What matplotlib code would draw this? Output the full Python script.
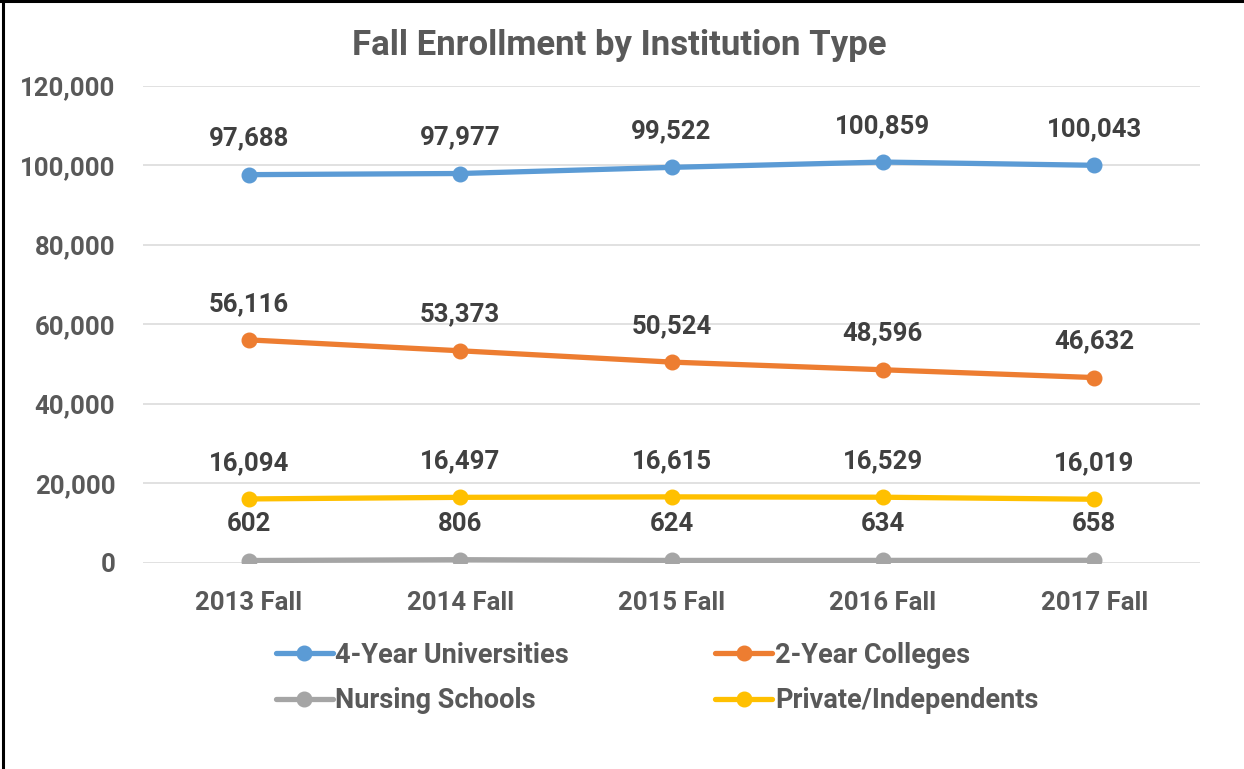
import matplotlib
matplotlib.use("Agg")
import matplotlib.pyplot as plt
from matplotlib.lines import Line2D
from matplotlib.ticker import FuncFormatter

plt.rcParams["font.family"] = ["Roboto", "DejaVu Sans"]

terms = ["2013 Fall", "2014 Fall", "2015 Fall", "2016 Fall", "2017 Fall"]
four_year = [97688, 97977, 99522, 100859, 100043]
two_year = [56116, 53373, 50524, 48596, 46632]
nursing = [602, 806, 624, 634, 658]
private = [16094, 16497, 16615, 16529, 16019]

SERIES = [
    ("4-Year Universities", four_year, "#5B9BD5"),
    ("2-Year Colleges", two_year, "#ED7D31"),
    ("Nursing Schools", nursing, "#A5A5A5"),
    ("Private/Independents", private, "#FFC000"),
]

TEXT = "#595959"
LABEL = "#404040"
FS = 18.5

fig = plt.figure(figsize=(12.44, 7.69), dpi=100)
ax = fig.add_axes([0.115, 0.268, 0.8496, 0.6202])

x = list(range(len(terms)))
handles = {}
for name, vals, color in SERIES:
    (ln,) = ax.plot(x, vals, color=color, lw=3.8, marker="o", ms=10.5,
                    solid_capstyle="round", label=name, zorder=3)
    handles[name] = ln
    for xi, v in zip(x, vals):
        ax.annotate(f"{v:,}", (xi, v), xytext=(0, 26), textcoords="offset points",
                    ha="center", va="center", fontsize=FS, fontweight="bold",
                    color=LABEL)

ax.set_xlim(-0.5, len(terms) - 0.5)
ax.set_ylim(0, 120000)
ax.set_yticks(range(0, 120001, 20000))
ax.yaxis.set_major_formatter(FuncFormatter(lambda v, p: f"{int(v):,}"))
ax.set_xticks(x)
ax.set_xticklabels(terms)
ax.grid(axis="y", color="#D9D9D9", lw=1.1, zorder=0)
ax.set_axisbelow(True)
for s in ax.spines.values():
    s.set_visible(False)
ax.tick_params(length=0, labelsize=FS, labelcolor=TEXT)
for lab in ax.get_xticklabels() + ax.get_yticklabels():
    lab.set_fontweight("bold")
ax.tick_params(axis="x", pad=20)
ax.tick_params(axis="y", pad=20)

fig.text(0.498, 0.941, "Fall Enrollment by Institution Type", ha="center", va="center",
         fontsize=25, fontweight="bold", color=TEXT)

order = ["4-Year Universities", "Nursing Schools", "2-Year Colleges", "Private/Independents"]
fig.legend([handles[n] for n in order], order, ncol=2, loc="upper left",
           bbox_to_anchor=(0.202, 0.197), frameon=False,
           labelcolor=TEXT, handlelength=2.1, handletextpad=0.1,
           columnspacing=5.4, labelspacing=0.68, prop={"weight": "bold", "size": 19.5})

fig.add_artist(Line2D([2.5 / 1244, 2.5 / 1244], [0, 1], color="black", lw=2.2,
                      transform=fig.transFigure))
fig.add_artist(Line2D([0, 1], [1 - 0.8 / 769, 1 - 0.8 / 769], color="black", lw=2.2,
                      transform=fig.transFigure))

fig.savefig("out.png", dpi=100, facecolor="white")
